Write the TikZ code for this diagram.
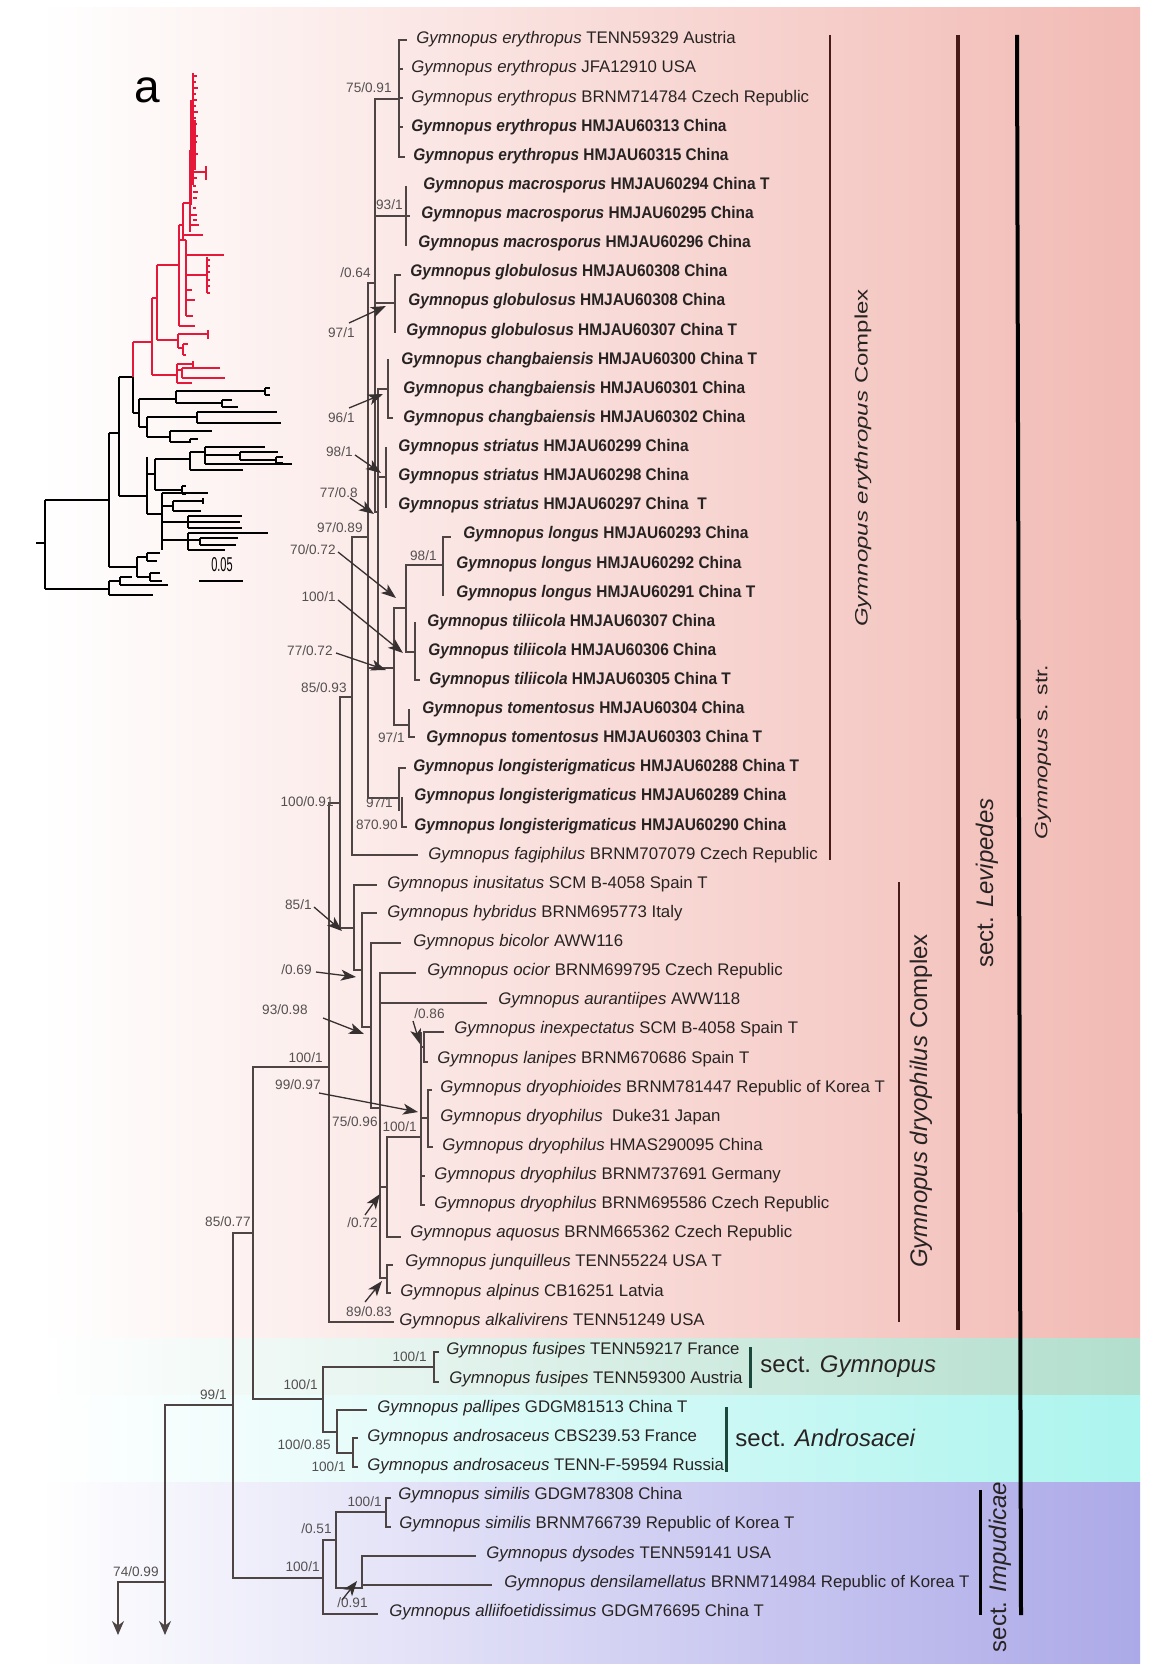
\documentclass[tikz,border=0pt]{standalone}
\usepackage{fontspec}
\setmainfont{Liberation Sans}
\usepackage{graphicx}
\usetikzlibrary{arrows.meta}
\definecolor{pinkR}{RGB}{242,186,180}
\definecolor{greenR}{RGB}{178,222,205}
\definecolor{cyanR}{RGB}{172,244,238}
\definecolor{purpR}{RGB}{172,169,232}
\definecolor{treec}{RGB}{78,68,68}
\definecolor{arrc}{RGB}{55,48,48}
\definecolor{brownbar}{RGB}{72,26,24}
\definecolor{tealbar}{RGB}{28,72,60}
\definecolor{txt}{RGB}{40,35,35}
\definecolor{supc}{RGB}{85,80,80}
\definecolor{insred}{RGB}{230,24,58}
\newcommand\tipR[4]{\node[tiplab] (t#1) at (#2,{39.5+(#1-1)*29.12}) {\textit{Gymnopus #3} #4};}
\newcommand\tipB[4]{\node[tiplab] (t#1) at (#2,{39.5+(#1-1)*29.12}) {\scalebox{0.92}[1]{\bfseries\textit{Gymnopus #3} #4}};}
\begin{document}
\begin{tikzpicture}[x=0.5pt,y=-0.5pt,
  tiplab/.style={anchor=west,inner sep=0pt,text=txt,font=\fontsize{8.4}{10}\selectfont},
  suplab/.style={anchor=east,inner sep=0pt,text=supc,font=\fontsize{6.8}{8}\selectfont},
  grp/.style={inner sep=0pt,text=txt,font=\fontsize{12}{14}\selectfont},
  branch/.style={draw=treec,line width=0.8pt,line cap=rect},
  suparr/.style={draw=arrc,line width=0.65pt,-{Stealth[length=7.5pt,width=5.5pt,inset=2pt]}},
  bigarr/.style={draw=treec,line width=0.8pt,-{Stealth[length=7pt,width=6pt]}},
  inblk/.style={draw=black,line width=1pt},
  inred/.style={draw=insred,line width=0.85pt},
  cbar/.style={line width=1.4pt}]
\useasboundingbox (0,0) rectangle (1152,1673);
\fill[white] (0,0) rectangle (1152,1673);
% background bands
\shade[left color=white,right color=pinkR] (40,8) rectangle (1140,1338);
\shade[left color=white,right color=greenR] (40,1338) rectangle (1140,1395);
\shade[left color=white,right color=cyanR] (40,1395) rectangle (1140,1482);
\shade[left color=white,right color=purpR] (40,1482) rectangle (1140,1663);

% ---------------- inset tree ----------------
\node[inner sep=0pt,font=\fontsize{23}{26}\selectfont] (lettera) at (147,90) {a};
\draw[inblk] (36,543)--(45,543) (45,500)--(45,589) (45,500)--(109,500) (45,589)--(109,589)
 (109,433)--(109,567) (109,433)--(119,433) (109,567)--(137,567)
 (119,377)--(119,496) (119,377)--(133,377) (119,496)--(147,496)
 (133,377)--(133,413) (133,413)--(139,413) (139,399)--(139,427)
 (139,399)--(176,399) (176,391)--(176,403) (176,391)--(265,391) (265,388)--(265,395) (265,388)--(270,388) (265,395)--(270,395)
 (176,403)--(222,403) (222,400)--(222,407) (222,400)--(232,400) (222,407)--(238,407)
 (139,427)--(147,427) (147,417)--(147,437) (147,417)--(197,417) (197,412)--(197,423) (197,412)--(277,412) (197,423)--(281,423)
 (147,437)--(170,437) (170,431)--(170,442) (170,431)--(212,431) (170,442)--(190,442) (190,439)--(190,443) (190,439)--(198,439)
 (147,457)--(147,514) (147,474)--(155,474) (155,459)--(155,490)
 (155,459)--(190,459) (190,452)--(190,470) (190,452)--(205,452) (205,447)--(205,464) (205,447)--(265,447)
 (205,455)--(240,455) (240,452)--(240,460) (240,452)--(278,452) (240,460)--(276,460) (276,457)--(276,463) (276,457)--(283,457) (276,463)--(283,463)
 (205,464)--(292,464) (190,470)--(243,470) (155,490)--(182,490) (182,486)--(182,494) (182,486)--(186,486) (182,494)--(186,494)
 (147,514)--(162,514) (162,493)--(162,550) (162,493)--(208,493)
 (162,506)--(173,506) (173,501)--(173,511) (173,501)--(203,501) (203,498)--(203,504) (173,511)--(201,511)
 (162,522)--(188,522) (188,516)--(188,528) (188,516)--(242,516) (188,522)--(240,522) (188,528)--(242,528)
 (162,540)--(188,540) (188,533)--(188,550) (188,533)--(268,533) (188,540)--(200,540) (200,538)--(200,545) (200,538)--(238,538) (200,545)--(236,545) (188,550)--(225,550)
 (137,557)--(137,577) (137,557)--(147,557) (147,553)--(147,561) (147,553)--(160,553) (147,561)--(157,561)
 (137,577)--(150,577) (150,573)--(150,581) (150,573)--(160,573) (150,581)--(162,581)
 (109,581)--(109,595) (109,581)--(120,581) (120,577)--(120,585) (120,577)--(132,577) (120,585)--(168,585) (109,595)--(153,595);
\draw[inred] (133,342)--(133,377) (133,342)--(152,342) (152,298)--(152,375) (152,375)--(177,375)
 (177,364)--(177,383) (177,364)--(193,364) (193,361)--(193,367) (177,370)--(182,370) (182,368)--(182,378) (182,368)--(220,368) (182,378)--(225,378) (177,383)--(192,383)
 (152,298)--(157,298) (157,265)--(157,340)
 (157,340)--(178,340) (178,334)--(178,348) (178,334)--(208,334) (208,330)--(208,339) (178,348)--(183,348) (183,344)--(183,355) (183,344)--(188,344) (183,355)--(186,355)
 (157,265)--(179,265) (179,225)--(179,326) (179,326)--(195,326)
 (179,225)--(183,225) (183,203)--(183,239) (183,235)--(203,235) (183,203)--(190,203)
 (190,150)--(190,232) (191,100)--(191,205) (193,73)--(193,185) (195,120)--(195,170)
 (194,172)--(206,172) (206,166)--(206,180) (190,215)--(197,215) (190,225)--(199,225)
 (179,240)--(186,240) (186,240)--(186,316) (186,255)--(224,255) (186,275)--(207,275) (207,257)--(207,293)
 (186,300)--(195,300) (186,316)--(193,316) (186,290)--(192,290);
\foreach \yy/\ll in {76/4,82/3,88/5,94/3,100/4,106/3,112/5,118/3,124/4,130/3,136/5,142/4,148/3,154/5,160/3,178/4,186/3,192/5,198/4,208/3,220/4}
  \draw[inred] (193,\yy)--++(\ll,0);
\foreach \yy in {260,266,272,280,286,293}
  \draw[inred] (207,\yy)--++(3,0);
\draw[line width=1pt] (199,581) coordinate (sb1)--(243,581) coordinate (sb2);
\node[inner sep=0pt] (sbl) at (222,565) {\scalebox{0.55}[1]{\fontsize{10}{12}\selectfont 0.05}};

% ---------------- main tree branches ----------------
\draw[branch]
 % erythropus complex
 (399,40)--(399,157) (399,40)--(406,40) (399,69)--(402,69) (399,98)--(402,98) (399,127)--(402,127) (399,157)--(404,157)
 (375,99)--(399,99)
 (406,187)--(406,245) (406,216)--(409,216) (375,216)--(406,216)
 (375,99)--(375,512) (368,283)--(375,283)
 (395,275)--(395,332) (395,275)--(400,275) (375,303)--(395,303)
 (388,360)--(388,418) (388,418)--(392,418) (378,389)--(388,389)
 (378,389)--(378,668) (375,512)--(378,512)
 (386,448)--(386,507) (378,477)--(386,477)
 (443,537)--(443,595) (443,537)--(450,537) (406,565)--(443,565)
 (406,565)--(406,652) (406,652)--(415,652) (415,623)--(415,680) (415,680)--(419,680)
 (394,608)--(394,725) (394,608)--(406,608) (394,725)--(409,725) (409,710)--(409,737) (409,737)--(414,737)
 (368,668)--(394,668)
 (352,537)--(368,537) (368,283)--(368,798)
 (368,798)--(399,798) (399,768)--(399,810) (399,768)--(405,768) (402,798)--(402,827) (402,827)--(406,827)
 (352,537)--(352,855) (352,855)--(417,855)
 (340,697)--(352,697) (340,697)--(340,928) (329,803)--(340,803) (329,803)--(329,1322)
 % dryophilus complex
 (340,928)--(354,928) (354,885)--(354,970) (354,885)--(376,885)
 (354,970)--(362,970) (362,913)--(362,1027) (362,913)--(376,913)
 (362,1027)--(371,1027) (371,943)--(371,1108) (371,943)--(400,943)
 (371,1108)--(380,1108) (380,973)--(380,1278) (380,973)--(415,973) (380,1003)--(486,1003)
 (380,1187)--(387,1187) (387,1137)--(387,1237) (387,1137)--(421,1137) (387,1237)--(400,1237)
 (421,1033)--(421,1205) (421,1205)--(424,1205) (421,1176)--(424,1176)
 (421,1047)--(424,1047) (424,1032)--(424,1062) (424,1032)--(443,1032) (424,1062)--(427,1062)
 (421,1118)--(428,1118) (428,1090)--(428,1147) (428,1090)--(431,1090) (428,1147)--(432,1147)
 (380,1278)--(387,1278) (387,1265)--(387,1293) (387,1265)--(392,1265) (387,1293)--(390,1293)
 (329,1322)--(393,1322)
 % deeper nodes
 (253,1067)--(329,1067) (253,1067)--(253,1399) (233,1233)--(253,1233) (233,1233)--(233,1578)
 (165,1405)--(233,1405)
 (253,1399)--(323,1399) (323,1367)--(323,1432) (323,1367)--(434,1367)
 (434,1352)--(434,1382) (434,1352)--(438,1352) (434,1382)--(438,1382)
 (323,1432)--(337,1432) (337,1410)--(337,1453) (337,1410)--(366,1410) (337,1453)--(353,1453)
 (353,1438)--(353,1467) (353,1438)--(357,1438) (353,1467)--(357,1467)
 (233,1578)--(323,1578) (323,1540)--(323,1614) (323,1540)--(336,1540)
 (336,1512)--(336,1588) (336,1512)--(386,1512) (386,1498)--(386,1527) (386,1498)--(390,1498) (386,1527)--(390,1527)
 (336,1588)--(362,1588) (362,1556)--(362,1588) (362,1556)--(475,1556) (362,1585)--(491,1585)
 (323,1614)--(377,1614)
 (118,1582)--(165,1582);
\draw[bigarr] (165,1405)--(165,1635);
\draw[bigarr] (118,1582)--(118,1635);

% ---------------- tip labels ----------------
\tipR{1}{416}{erythropus}{TENN59329 Austria}
\tipR{2}{411}{erythropus}{JFA12910 USA}
\tipR{3}{411}{erythropus}{BRNM714784 Czech Republic}
\tipB{4}{411}{erythropus}{HMJAU60313 China}
\tipB{5}{413}{erythropus}{HMJAU60315 China}
\tipB{6}{423}{macrosporus}{HMJAU60294 China T}
\tipB{7}{421}{macrosporus}{HMJAU60295 China}
\tipB{8}{418}{macrosporus}{HMJAU60296 China}
\tipB{9}{410}{globulosus}{HMJAU60308 China}
\tipB{10}{408}{globulosus}{HMJAU60308 China}
\tipB{11}{406}{globulosus}{HMJAU60307 China T}
\tipB{12}{401}{changbaiensis}{HMJAU60300 China T}
\tipB{13}{403}{changbaiensis}{HMJAU60301 China}
\tipB{14}{403}{changbaiensis}{HMJAU60302 China}
\tipB{15}{398}{striatus}{HMJAU60299 China}
\tipB{16}{398}{striatus}{HMJAU60298 China}
\tipB{17}{398}{striatus}{HMJAU60297 China\ \ T}
\tipB{18}{463}{longus}{HMJAU60293 China}
\tipB{19}{456}{longus}{HMJAU60292 China}
\tipB{20}{456}{longus}{HMJAU60291 China T}
\tipB{21}{427}{tiliicola}{HMJAU60307 China}
\tipB{22}{428}{tiliicola}{HMJAU60306 China}
\tipB{23}{429}{tiliicola}{HMJAU60305 China T}
\tipB{24}{422}{tomentosus}{HMJAU60304 China}
\tipB{25}{426}{tomentosus}{HMJAU60303 China T}
\tipB{26}{413}{longisterigmaticus}{HMJAU60288 China T}
\tipB{27}{414}{longisterigmaticus}{HMJAU60289 China}
\tipB{28}{414}{longisterigmaticus}{HMJAU60290 China}
\tipR{29}{428}{fagiphilus}{BRNM707079 Czech Republic}
\tipR{30}{387}{inusitatus}{SCM B-4058 Spain T}
\tipR{31}{387}{hybridus}{BRNM695773 Italy}
\tipR{32}{413}{bicolor}{AWW116}
\tipR{33}{427}{ocior}{BRNM699795 Czech Republic}
\tipR{34}{498}{aurantiipes}{AWW118}
\tipR{35}{454}{inexpectatus}{SCM B-4058 Spain T}
\tipR{36}{437}{lanipes}{BRNM670686 Spain T}
\tipR{37}{440}{dryophioides}{BRNM781447 Republic of Korea T}
\tipR{38}{440}{dryophilus}{\ Duke31 Japan}
\tipR{39}{442}{dryophilus}{HMAS290095 China}
\tipR{40}{434}{dryophilus}{BRNM737691 Germany}
\tipR{41}{434}{dryophilus}{BRNM695586 Czech Republic}
\tipR{42}{410}{aquosus}{BRNM665362 Czech Republic}
\tipR{43}{405}{junquilleus}{TENN55224 USA T}
\tipR{44}{400}{alpinus}{CB16251 Latvia}
\tipR{45}{399}{alkalivirens}{TENN51249 USA}
\tipR{46}{446}{fusipes}{TENN59217 France}
\tipR{47}{449}{fusipes}{TENN59300 Austria}
\tipR{48}{377}{pallipes}{GDGM81513 China T}
\tipR{49}{367}{androsaceus}{CBS239.53 France}
\tipR{50}{367}{androsaceus}{TENN-F-59594 Russia}
\tipR{51}{398}{similis}{GDGM78308 China}
\tipR{52}{399}{similis}{BRNM766739 Republic of Korea T}
\tipR{53}{486}{dysodes}{TENN59141 USA}
\tipR{54}{504}{densilamellatus}{BRNM714984 Republic of Korea T}
\tipR{55}{389}{alliifoetidissimus}{GDGM76695 China T}

% ---------------- support values ----------------
\node[suplab] (s1) at (392,88) {75/0.91};
\node[suplab] (s2) at (403,205) {93/1};
\node[suplab] (s3) at (371,273) {/0.64};
\node[suplab] (s4) at (355,333) {97/1};
\node[suplab] (s5) at (355,418) {96/1};
\node[suplab] (s6) at (353,452) {98/1};
\node[suplab] (s7) at (358,493) {77/0.8};
\node[suplab] (s8) at (363,528) {97/0.89};
\node[suplab] (s9) at (336,550) {70/0.72};
\node[suplab] (s10) at (336,597) {100/1};
\node[suplab] (s11) at (333,651) {77/0.72};
\node[suplab] (s12) at (437,556) {98/1};
\node[suplab] (s13) at (347,688) {85/0.93};
\node[suplab] (s14) at (405,738) {97/1};
\node[suplab] (s15) at (334,802) {100/0.91};
\node[suplab] (s16) at (393,803) {97/1};
\node[suplab] (s17) at (398,825) {870.90};
\node[suplab] (s18) at (312,905) {85/1};
\node[suplab] (s19) at (312,970) {/0.69};
\node[suplab] (s20) at (308,1010) {93/0.98};
\node[suplab] (s21) at (323,1058) {100/1};
\node[suplab] (s22) at (445,1014) {/0.86};
\node[suplab] (s23) at (321,1085) {99/0.97};
\node[suplab] (s24) at (378,1122) {75/0.96};
\node[suplab] (s25) at (417,1127) {100/1};
\node[suplab] (s26) at (378,1223) {/0.72};
\node[suplab] (s27) at (392,1312) {89/0.83};
\node[suplab] (s28) at (251,1222) {85/0.77};
\node[suplab] (s29) at (427,1357) {100/1};
\node[suplab] (s30) at (318,1385) {100/1};
\node[suplab] (s31) at (227,1395) {99/1};
\node[suplab] (s32) at (331,1445) {100/0.85};
\node[suplab] (s33) at (346,1467) {100/1};
\node[suplab] (s34) at (382,1502) {100/1};
\node[suplab] (s35) at (332,1529) {/0.51};
\node[suplab] (s36) at (320,1567) {100/1};
\node[suplab] (s37) at (368,1603) {/0.91};
\node[suplab] (s38) at (159,1572) {74/0.99};

\draw[suparr] (349,323)--(386,306);
\draw[suparr] (349,408)--(383,394);
\draw[suparr] (355,455)--(381,473);
\draw[suparr] (350,498)--(374,514);
\draw[suparr] (338,552)--(396,598);
\draw[suparr] (338,600)--(403,653);
\draw[suparr] (336,653)--(386,670);
\draw[suparr] (314,907)--(342,931);
\draw[suparr] (316,972)--(356,977);
\draw[suparr] (323,1018)--(364,1034);
\draw[suparr] (413,1021)--(420,1044);
\draw[suparr] (319,1093)--(418,1112);
\draw[suparr] (365,1215)--(380,1194);
\draw[suparr] (365,1302)--(382,1281);
\draw[suparr] (342,1600)--(357,1581);

% ---------------- group bars and labels ----------------
\draw[cbar,brownbar,line width=1.3pt] (830,35)--(830,860);
\draw[cbar,brownbar,line width=1.3pt] (899,882)--(899,1322);
\draw[cbar,brownbar,line width=1.8pt] (958,35)--(958,1330);
\draw[cbar,black,line width=2pt] (1017,35)--(1021,1615);
\draw[cbar,tealbar,line width=1.5pt] (750,1347)--(750,1388);
\draw[cbar,tealbar,line width=1.5pt] (726,1407)--(726,1472);
\draw[cbar,black,line width=1.5pt] (980,1490)--(980,1615);

\node[grp,rotate=90] (g1) at (863,458) {\scalebox{1}[0.75]{\textit{Gymnopus erythropus} Complex}};
\node[grp,rotate=90] (g2) at (921,1101) {\textit{Gymnopus dryophilus} Complex};
\node[grp,rotate=90] (g3) at (987,883) {sect. \textit{Levipedes}};
\node[grp,rotate=90,font=\fontsize{11.5}{13}\selectfont] (g4) at (1043,752) {\scalebox{1}[0.78]{\textit{Gymnopus} s. str.}};
\node[grp,anchor=west] (g5) at (760,1367) {sect. \textit{Gymnopus}};
\node[grp,anchor=west] (g6) at (735,1438) {sect. \textit{Androsacei}};
\node[grp,rotate=90] (g7) at (1000,1567) {sect. \textit{Impudicae}};
\end{tikzpicture}
\end{document}
